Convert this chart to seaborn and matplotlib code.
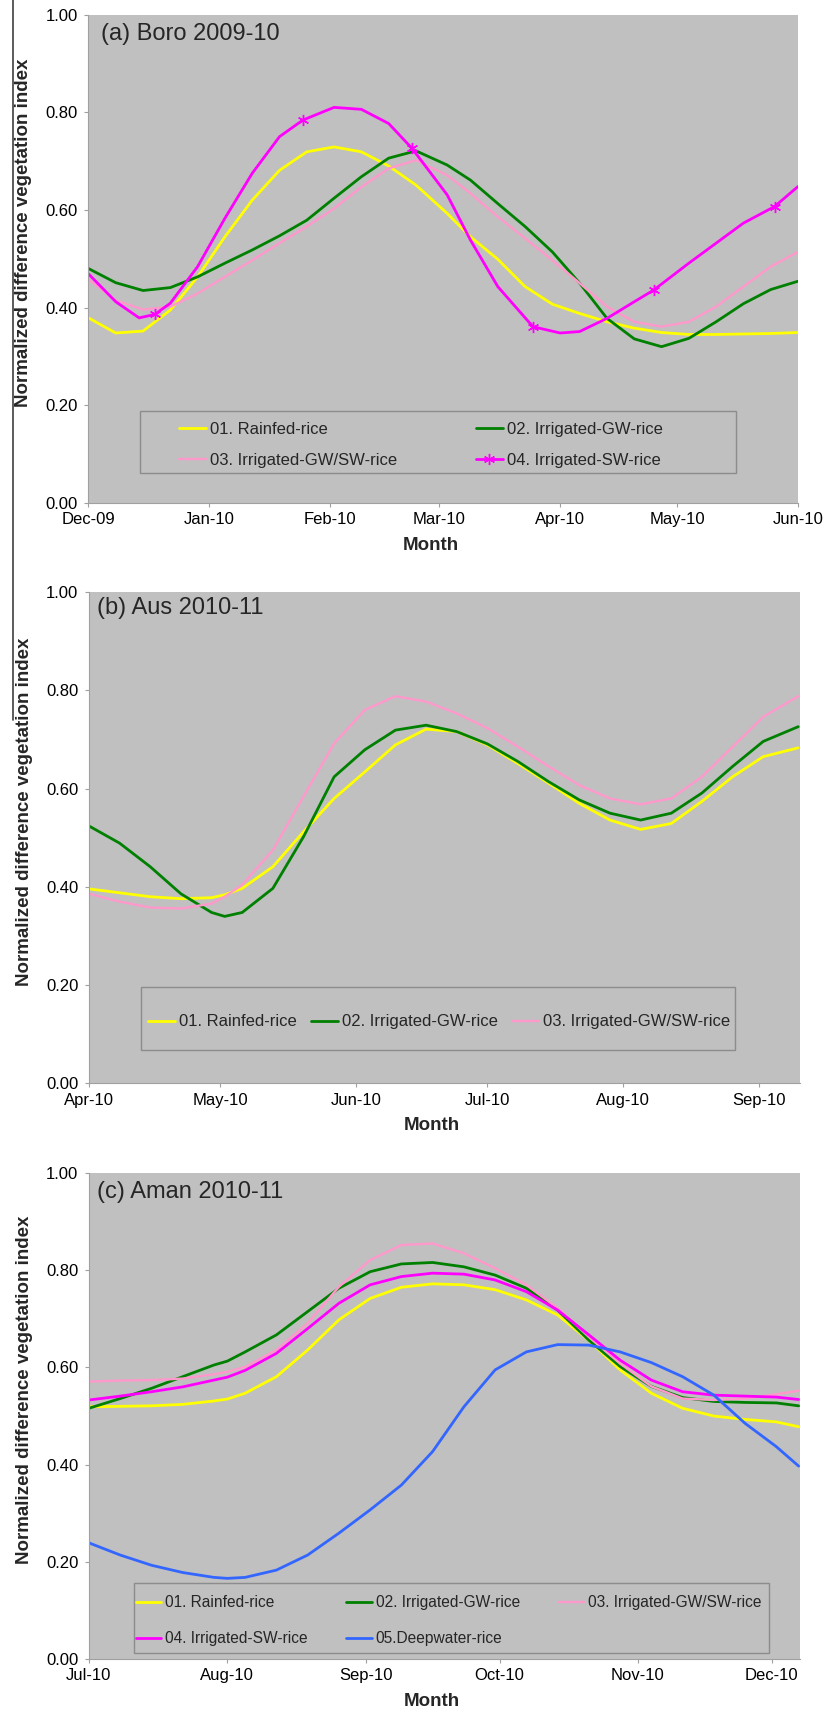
import numpy as np
import pandas as pd
import seaborn as sns
import matplotlib.pyplot as plt
import matplotlib.dates as mdates
from matplotlib.lines import Line2D
from matplotlib.patches import Rectangle

sns.set_theme(style="ticks")
plt.rcParams['font.family'] = ['Liberation Sans', 'DejaVu Sans']

# ---- series names / colours ----
labels = ['01. Rainfed-rice', '02. Irrigated-GW-rice', '03. Irrigated-GW/SW-rice',
          '04. Irrigated-SW-rice', '05.Deepwater-rice']
colors = ['#FFFF00', '#008000', '#FF99CC', '#FF00FF', '#3366FF']
widths = [2.0, 2.0, 1.7, 2.0, 2.0]

# ---- (a) Boro 2009-10 : days after 1 Dec 2009 ----
boro_start = '2009-12-01'
boro_days = [0, 7, 14, 21, 28, 35, 42, 49, 56, 63, 70, 77, 84, 92, 98, 105, 112,
             119, 126, 133, 140, 147, 154, 161, 168, 175, 182]
boro_rainfed = [0.379, 0.348, 0.352, 0.395, 0.463, 0.545, 0.620, 0.681, 0.719, 0.729,
                0.719, 0.690, 0.651, 0.593, 0.545, 0.499, 0.443, 0.407, 0.388, 0.371,
                0.358, 0.349, 0.345, 0.345, 0.346, 0.347, 0.349]
boro_gw = [0.480, 0.451, 0.435, 0.441, 0.463, 0.491, 0.518, 0.547, 0.579, 0.624,
           0.668, 0.706, 0.721, 0.692, 0.661, 0.613, 0.566, 0.514, 0.450, 0.378,
           0.336, 0.320, 0.337, 0.371, 0.408, 0.437, 0.454]
boro_gwsw = [0.458, 0.415, 0.396, 0.402, 0.429, 0.463, 0.497, 0.532, 0.566, 0.603,
             0.647, 0.685, 0.702, 0.671, 0.634, 0.586, 0.542, 0.497, 0.450, 0.402,
             0.371, 0.361, 0.371, 0.402, 0.443, 0.484, 0.514]
boro_sw_days = [0, 7, 13, 17, 21, 28, 35, 42, 49, 55, 63, 70, 77, 83, 92, 98, 105,
                114, 121, 126, 133, 140, 145, 154, 161, 168, 176, 182]
boro_sw = [0.469, 0.412, 0.379, 0.386, 0.409, 0.484, 0.583, 0.675, 0.750, 0.784,
           0.810, 0.806, 0.777, 0.726, 0.631, 0.538, 0.443, 0.361, 0.348, 0.351,
           0.378, 0.412, 0.436, 0.491, 0.532, 0.573, 0.607, 0.648]
boro_sw_marker_days = [17, 55, 83, 114, 145, 176]

# ---- (b) Aus 2010-11 : days after 1 Apr 2010 ----
aus_start = '2010-04-01'
aus_days = [0, 7, 14, 21, 28, 31, 35, 42, 49, 56, 63, 70, 77, 84, 91, 98, 105,
            112, 119, 126, 133, 140, 147, 154, 162]
aus_rainfed = [0.396, 0.388, 0.380, 0.376, 0.378, 0.384, 0.397, 0.441, 0.512, 0.580,
               0.634, 0.689, 0.721, 0.716, 0.689, 0.651, 0.611, 0.570, 0.536, 0.517,
               0.529, 0.574, 0.624, 0.665, 0.683]
aus_gw = [0.524, 0.489, 0.441, 0.386, 0.348, 0.340, 0.348, 0.397, 0.502, 0.624,
          0.679, 0.719, 0.729, 0.716, 0.691, 0.655, 0.614, 0.577, 0.550, 0.536,
          0.550, 0.591, 0.645, 0.696, 0.726]
aus_gwsw = [0.386, 0.370, 0.358, 0.356, 0.366, 0.380, 0.404, 0.475, 0.584, 0.692,
            0.760, 0.788, 0.777, 0.753, 0.723, 0.685, 0.645, 0.607, 0.580, 0.568,
            0.580, 0.624, 0.685, 0.746, 0.788]

# ---- (c) Aman 2010-11 : days after 1 Jul 2010 ----
aman_start = '2010-07-01'
aman_days = [0, 7, 14, 21, 28, 31, 35, 42, 49, 56, 63, 70, 77, 84, 91, 98, 105,
             112, 119, 126, 133, 140, 147, 154, 159]
aman_rainfed = [0.519, 0.520, 0.521, 0.524, 0.531, 0.535, 0.547, 0.581, 0.636, 0.698,
                0.742, 0.765, 0.772, 0.770, 0.760, 0.739, 0.708, 0.656, 0.595, 0.547,
                0.516, 0.500, 0.493, 0.488, 0.478]
aman_gw = [0.516, 0.536, 0.557, 0.581, 0.605, 0.613, 0.632, 0.667, 0.715, 0.763,
           0.797, 0.813, 0.816, 0.807, 0.790, 0.763, 0.718, 0.656, 0.602, 0.561,
           0.538, 0.530, 0.528, 0.527, 0.521]
aman_gwsw = [0.571, 0.573, 0.574, 0.577, 0.586, 0.591, 0.601, 0.636, 0.691, 0.766,
             0.821, 0.852, 0.855, 0.835, 0.804, 0.770, 0.722, 0.663, 0.608, 0.561,
             0.536, 0.533, 0.536, 0.545, 0.552]
aman_sw = [0.533, 0.541, 0.550, 0.560, 0.574, 0.580, 0.594, 0.629, 0.680, 0.732,
           0.770, 0.787, 0.794, 0.792, 0.780, 0.756, 0.718, 0.667, 0.615, 0.574,
           0.550, 0.543, 0.541, 0.539, 0.534]
aman_deep = [0.239, 0.214, 0.193, 0.178, 0.168, 0.166, 0.168, 0.183, 0.214, 0.259,
             0.307, 0.358, 0.427, 0.519, 0.595, 0.632, 0.647, 0.646, 0.632, 0.610,
             0.581, 0.543, 0.485, 0.437, 0.397]


def to_dates(start, days):
    return pd.Timestamp(start) + pd.to_timedelta(days, unit='D')


fig = plt.figure(figsize=(8.26, 17.16), dpi=100)

# panel rectangles (figure fractions), x-range end (days), legend settings
panels = [
    dict(rect=[0.1071, 0.7069, 0.8590, 0.2846], start=boro_start, end=182,
         title='(a) Boro 2009-10', title_xy=(0.017, 0.960),
         series=[(boro_days, boro_rainfed, 0), (boro_days, boro_gw, 1),
                 (boro_days, boro_gwsw, 2), (boro_sw_days, boro_sw, 3)],
         order=[0, 2, 1, 3], ncol=2, colsp=4.7, labsp=0.96, legsize=12,
         frame=(0.0729, 0.0608, 0.8391, 0.1276), anchor=(0.1276, 0.166)),
    dict(rect=[0.1077, 0.3686, 0.8608, 0.2864], start=aus_start, end=162.4,
         title='(b) Aus 2010-11', title_xy=(0.011, 0.967),
         series=[(aus_days, aus_rainfed, 0), (aus_days, aus_gw, 1),
                 (aus_days, aus_gwsw, 2)],
         order=[0, 1, 2], ncol=3, colsp=0.84, labsp=0.7, legsize=12,
         frame=(0.0736, 0.068, 0.8354, 0.1273), anchor=(0.083, 0.1404)),
    dict(rect=[0.1077, 0.0332, 0.8608, 0.2832], start=aman_start, end=159.3,
         title='(c) Aman 2010-11', title_xy=(0.011, 0.961),
         series=[(aman_days, aman_rainfed, 0), (aman_days, aman_gw, 1),
                 (aman_days, aman_gwsw, 2), (aman_days, aman_sw, 3),
                 (aman_days, aman_deep, 4)],
         order=[0, 3, 1, 4, 2], ncol=3, colsp=2.5, labsp=1.35, legsize=11.2,
         frame=(0.063, 0.0123, 0.893, 0.1437), anchor=(0.066, 0.131)),
]

for p in panels:
    ax = fig.add_axes(p['rect'])
    ax.set_facecolor('#C0C0C0')
    for days, vals, k in p['series']:
        kw = {}
        if p['start'] == boro_start and k == 3:
            kw = dict(marker=(6, 2, 0), markersize=8,
                      markevery=[i for i, d in enumerate(days) if d in boro_sw_marker_days],
                      markeredgecolor=colors[k], markerfacecolor=colors[k],
                      markeredgewidth=1.0)
        sns.lineplot(x=to_dates(p['start'], days), y=vals, color=colors[k],
                     lw=widths[k], ax=ax, **kw)

    x0 = pd.Timestamp(p['start'])
    ax.set_xlim(x0, x0 + pd.Timedelta(days=p['end']))
    ax.set_ylim(0, 1)
    ax.set_yticks(np.arange(0, 1.01, 0.2))
    ax.yaxis.set_major_formatter(plt.FormatStrFormatter('%.2f'))
    ax.xaxis.set_major_locator(mdates.MonthLocator(bymonthday=1))
    ax.xaxis.set_major_formatter(mdates.DateFormatter('%b-%y'))

    for s in ['top', 'right']:
        ax.spines[s].set_visible(False)
    for s in ['left', 'bottom']:
        ax.spines[s].set_color('#A0A0A0')
        ax.spines[s].set_linewidth(0.8)
    ax.tick_params(axis='both', direction='out', length=3, width=0.8,
                   color='#A0A0A0', labelsize=12, labelcolor='black')
    ax.tick_params(axis='y', pad=4.6)
    ax.tick_params(axis='x', pad=3.5)

    ax.set_ylabel('Normalized difference vegetation index', fontsize=13.5,
                  fontweight='bold')
    ax.yaxis.set_label_coords(-0.079, 0.553)
    ax.set_xlabel('Month', fontsize=13.5, fontweight='bold')
    ax.xaxis.set_label_coords(0.482, -0.069)

    ax.text(p['title_xy'][0], p['title_xy'][1], p['title'], transform=ax.transAxes,
            fontsize=17, ha='left', va='center')

    fx, fy, fw, fh = p['frame']
    ax.add_patch(Rectangle((fx, fy), fw, fh, transform=ax.transAxes,
                           facecolor='#C0C0C0', edgecolor='#8C8C8C', lw=1.0,
                           zorder=3))
    ks = [k for _, _, k in p['series']]
    handles = []
    for k in ks:
        if p['start'] == boro_start and k == 3:
            handles.append(Line2D([], [], color=colors[k], lw=widths[k],
                                  marker=(6, 2, 0), markersize=8,
                                  markeredgecolor=colors[k], markeredgewidth=1.0))
        else:
            handles.append(Line2D([], [], color=colors[k], lw=widths[k]))
    hs = [handles[i] for i in p['order']]
    ls = [labels[ks[i]] for i in p['order']]
    leg = ax.legend(hs, ls, loc='upper left', bbox_to_anchor=p['anchor'],
                    ncol=p['ncol'], frameon=False, fontsize=p['legsize'],
                    borderpad=0, borderaxespad=0, handlelength=1.62,
                    handletextpad=0.25, columnspacing=p['colsp'],
                    labelspacing=p['labsp'])
    leg.set_zorder(5)

# thin vertical rule at the left edge of the page
fig.add_artist(Line2D([13 / 826, 13 / 826], [1.0, 1 - 720 / 1716],
                      transform=fig.transFigure, color='#404040', lw=1.2))

plt.savefig('out.png', dpi=100)
